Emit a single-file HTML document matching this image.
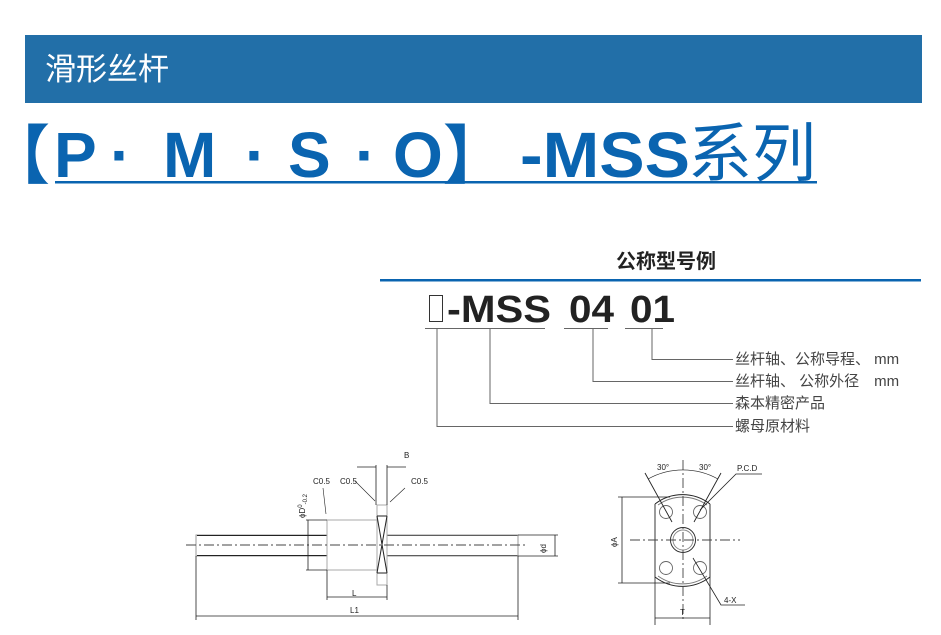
<!DOCTYPE html>
<html><head><meta charset="utf-8"><style>
html,body{margin:0;padding:0;background:#fff;width:941px;height:635px;overflow:hidden}
svg{display:block}
</style></head><body>
<svg width="941" height="635" viewBox="0 0 941 635" xmlns="http://www.w3.org/2000/svg" font-family="Liberation Sans, Noto Sans CJK SC, sans-serif">
<rect x="25" y="35" width="897" height="68" fill="#226fa8"/>
<text x="45" y="80" font-size="31" fill="#fff" font-family="Noto Sans CJK SC, sans-serif">滑形丝杆</text>
<g fill="#0a64b0" font-size="64" font-weight="bold">
<text x="-14" y="178" font-family="Noto Sans CJK SC, sans-serif">【</text>
<text x="54" y="177">P</text>
<text x="110" y="177">·</text>
<text x="163" y="177">M</text>
<text x="245" y="177">·</text>
<text x="288" y="177">S</text>
<text x="355" y="177">·</text>
<text x="393" y="177">O</text>
<text x="443" y="178" font-family="Noto Sans CJK SC, sans-serif">】</text>
<text x="520" y="177" textLength="170" lengthAdjust="spacingAndGlyphs">-MSS</text>
<text x="688" y="176" font-weight="normal" font-size="64" font-family="Noto Sans CJK SC, sans-serif">系列</text>
</g>
<rect x="55" y="181" width="762" height="2.5" fill="#0a64b0"/>

<text x="666" y="268" font-size="20" font-weight="bold" text-anchor="middle" fill="#222" font-family="Noto Sans CJK SC, sans-serif">公称型号例</text>
<rect x="380" y="279" width="541" height="2.5" fill="#0a64b0"/>
<rect x="429.5" y="295.5" width="13" height="26" fill="none" stroke="#333" stroke-width="1"/>
<text x="447" y="322" font-size="38" font-weight="bold" fill="#222" textLength="104" lengthAdjust="spacingAndGlyphs">-MSS</text>
<text x="569" y="322" font-size="38" font-weight="bold" fill="#222" textLength="45" lengthAdjust="spacingAndGlyphs">04</text>
<text x="630" y="322" font-size="38" font-weight="bold" fill="#222" textLength="45" lengthAdjust="spacingAndGlyphs">01</text>
<g stroke="#666" stroke-width="1" fill="none">
<path d="M425 328.5H545M564 328.5H608M625 328.5H663"/>
<path d="M652 328V359.5H733M593 328V381.5H733M490 328V403.5H733M437 328V426.5H733"/>
</g>
<g font-size="15" fill="#444" font-family="Liberation Sans, Noto Sans CJK SC, sans-serif">
<text x="735" y="364">丝杆轴、公称导程、 mm</text>
<text x="735" y="386">丝杆轴、 公称外径　mm</text>
<text x="735" y="408">森本精密产品</text>
<text x="735" y="431">螺母原材料</text>
</g>

<!-- left drawing -->
<g stroke="#222" stroke-width="1" fill="none">
<rect x="196" y="535" width="131" height="21" stroke="#999"/>
<path d="M197 535.5H327M197 555.5H327M387 535.5H518M387 555.5H518"/>
<rect x="387" y="535" width="131" height="21" stroke="#999"/>
<rect x="327" y="520" width="50" height="50" stroke="#aaa"/>
<rect x="377" y="505" width="10" height="80" stroke="#aaa"/>
<path d="M377 516H387M377 573H387M377 516L387 573M387 516L377 573"/>
<path d="M186 545H528" stroke-dasharray="10,3,2,3" stroke="#444"/>
<path d="M306 520H327M306 570H327M308 520V570" stroke-width="0.8"/>
<path d="M518 535H558M518 556H558M555 535V556" stroke-width="0.8"/>
<path d="M327 570V600M387 585V600M327 597H387" stroke-width="0.8"/>
<path d="M196 556V620M518 556V620M196 616H518" stroke-width="0.8"/>
<path d="M376 505V465M387 505V465M357 467H376M387 467H406" stroke-width="0.8"/>
<path d="M323 488L326 514M355 481L375 501M405 488L390 502" stroke-width="0.6"/>
</g>
<g font-size="8" fill="#222">
<text x="404" y="458">B</text>
<text x="313" y="484">C0.5</text>
<text x="340" y="484">C0.5</text>
<text x="411" y="484">C0.5</text>
<text x="352" y="596">L</text>
<text x="350" y="613">L1</text>
<text transform="translate(305,518) rotate(-90)">ϕD<tspan font-size="6" dy="-3">0</tspan><tspan font-size="6" dy="5">-0.2</tspan></text>
<text transform="translate(546,553) rotate(-90)">ϕd</text>
</g>

<!-- right drawing -->
<g stroke="#222" stroke-width="0.9" fill="none">
<path d="M655 504V577M710 504V577"/>
<path d="M655 504A45 45 0 0 1 710 504M655 577A45 45 0 0 0 710 577"/>
<path d="M658 505A42 42 0 0 1 707 505M658 576A42 42 0 0 0 707 576" stroke="#777"/>
<circle cx="683" cy="540" r="12.5"/><circle cx="683" cy="540" r="10" stroke="#888"/>
<circle cx="666" cy="512" r="6.5" stroke="#666"/><circle cx="700" cy="512" r="6.5" stroke="#666"/>
<circle cx="666" cy="568" r="6.5" stroke="#666"/><circle cx="700" cy="568" r="6.5" stroke="#666"/>
<path d="M683 460V622M630 540H740" stroke-dasharray="10,3,2,3" stroke="#444"/>
<path d="M645 473L672 522M721 473L694 522"/>
<path d="M648 479A72 72 0 0 1 718 479" stroke-width="0.7"/>
<path d="M618 497H670M618 583H670M622 497V583" stroke-width="0.8"/>
<path d="M655 577V625M710 577V625M655 618H710" stroke-width="0.8"/>
<path d="M700 510L736 474H762M693 558L721 605H745" stroke-width="0.8"/>
</g>
<g font-size="8" fill="#222">
<text x="657" y="470">30°</text>
<text x="699" y="470">30°</text>
<text x="737" y="471">P.C.D</text>
<text x="724" y="603">4-X</text>
<text x="680" y="615">T</text>
<text transform="translate(617,547) rotate(-90)">ϕA</text>
</g>
</svg>
</body></html>
